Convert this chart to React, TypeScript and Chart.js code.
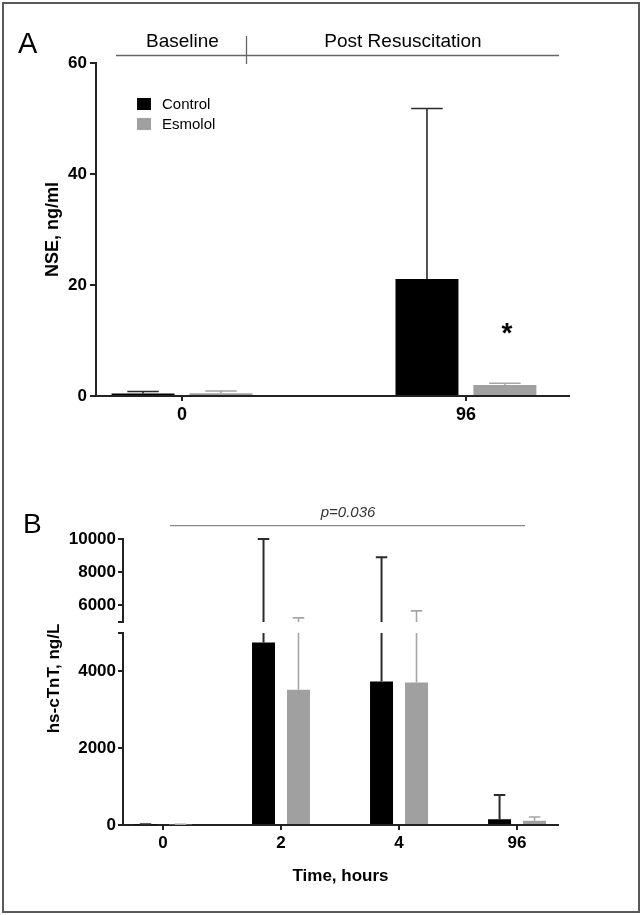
import React, { useEffect, useRef } from 'react';
import { Chart, registerables } from 'chart.js';

Chart.register(...registerables);

const FAMILY = '"Liberation Sans", Arial, Helvetica, sans-serif';

// ---------- shared series ----------
const seriesNames = ['Control', 'Esmolol'];
const barColors = ['#000000', '#a0a0a0'];
const errColors = ['#2b2b2b', '#a6a6a6'];

// ---------- Panel A: NSE (ng/ml) ----------
const nseTimes = ['0', '96'];
const nseControl = [0.45, 21.1];
const nseControlUpper = [0.8, 51.8];
const nseEsmolol = [0.5, 2.0];
const nseEsmololUpper = [0.9, 2.3];
const nseTicks = [0, 20, 40, 60];

// ---------- Panel B: hs-cTnT (ng/L) ----------
const tntTimes = ['0', '2', '4', '96'];
const tntControl = [15, 4750, 3740, 150];
const tntControlUpper = [20, 10000, 8900, 780];
const tntEsmolol = [15, 3520, 3710, 110];
const tntEsmololUpper = [20, 5250, 5670, 210];
const tntLowTicks = [0, 2000, 4000, 5000];
const tntHighTicks = [5000, 6000, 8000, 10000];
const tntBreak = 5000;

type Txt = { text: string; x: number; y: number; font: string; align?: CanvasTextAlign; rotate?: number; color?: string };
type Ln = { x1: number; y1: number; x2: number; y2: number; color: string; width: number };

function errorBars(uppers: number[][], colors: string[], widths: number[]) {
  return {
    id: 'errorBars',
    afterDatasetsDraw(chart: any) {
      const { ctx, chartArea: area } = chart;
      const ys = chart.scales.y;
      chart.data.datasets.forEach((ds: any, di: number) => {
        const meta = chart.getDatasetMeta(di);
        meta.data.forEach((bar: any, i: number) => {
          const { x, width } = bar.getProps(['x', 'width'], true);
          let yBottom = ys.getPixelForValue(ds.data[i].y);
          let yTop = ys.getPixelForValue(uppers[di][i]);
          const capVisible = yTop >= area.top - 0.5 && yTop <= area.bottom;
          yBottom = Math.min(yBottom, area.bottom);
          yTop = Math.max(yTop, area.top);
          if (yBottom - yTop <= 0) return;
          ctx.save();
          ctx.strokeStyle = colors[di];
          ctx.lineWidth = widths[di];
          ctx.beginPath();
          ctx.moveTo(x, yBottom);
          ctx.lineTo(x, yTop);
          if (capVisible) {
            ctx.moveTo(x - width / 4, yTop);
            ctx.lineTo(x + width / 4, yTop);
          }
          ctx.stroke();
          ctx.restore();
        });
      });
    },
  };
}

function decor(texts: Txt[], lines: Ln[]) {
  return {
    id: 'decor',
    afterDraw(chart: any) {
      const ctx = chart.ctx;
      lines.forEach((l) => {
        ctx.save();
        ctx.strokeStyle = l.color;
        ctx.lineWidth = l.width;
        ctx.beginPath();
        ctx.moveTo(l.x1, l.y1);
        ctx.lineTo(l.x2, l.y2);
        ctx.stroke();
        ctx.restore();
      });
      texts.forEach((t) => {
        ctx.save();
        ctx.font = t.font;
        ctx.fillStyle = t.color || '#000';
        ctx.textAlign = t.align || 'left';
        ctx.textBaseline = 'alphabetic';
        ctx.translate(t.x, t.y);
        if (t.rotate) ctx.rotate(t.rotate);
        ctx.fillText(t.text, 0, 0);
        ctx.restore();
      });
    },
  };
}

function boxLegend(x: number, y: number, gap: number) {
  return {
    id: 'boxLegend',
    afterDraw(chart: any) {
      const ctx = chart.ctx;
      chart.data.datasets.forEach((ds: any, i: number) => {
        const top = y + i * gap;
        ctx.save();
        ctx.fillStyle = ds.backgroundColor;
        ctx.fillRect(x, top, 14, 12);
        ctx.fillStyle = '#000';
        ctx.font = `15px ${FAMILY}`;
        ctx.textAlign = 'left';
        ctx.textBaseline = 'middle';
        ctx.fillText(ds.label, x + 25, top + 6.5);
        ctx.restore();
      });
    },
  };
}

function xScale(cats: string[], min: number, max: number, display: boolean, height: number, fontSize: number, title?: any) {
  return {
    type: 'linear',
    min,
    max,
    offset: false,
    display,
    afterBuildTicks: (s: any) => {
      s.ticks = cats.map((_, i) => ({ value: i }));
    },
    afterFit: (s: any) => {
      s.height = height;
    },
    ticks: {
      callback: (v: number) => cats[v] ?? '',
      font: { family: FAMILY, size: fontSize, weight: 'bold' },
      color: '#000',
      padding: 3,
      maxRotation: 0,
      autoSkip: false,
    },
    grid: { display: true, offset: false, drawOnChartArea: false, drawTicks: true, tickLength: 5, color: '#222', lineWidth: 2 },
    border: { display: true, color: '#222', width: 2 },
    title: title || { display: false },
  };
}

function yScale(ticks: number[], min: number, max: number, width: number, hidden: number[], tickLen: number, pad: number, title?: any) {
  return {
    type: 'linear',
    min,
    max,
    afterBuildTicks: (s: any) => {
      s.ticks = ticks.map((v) => ({ value: v }));
    },
    afterFit: (s: any) => {
      s.width = width;
    },
    ticks: {
      callback: (v: number) => (hidden.includes(v) ? '' : String(v)),
      font: { family: FAMILY, size: 17, weight: 'bold' },
      color: '#000',
      padding: pad,
    },
    grid: { display: true, drawOnChartArea: false, drawTicks: true, tickLength: tickLen, color: '#222', lineWidth: 2 },
    border: { display: true, color: '#222', width: 2 },
    title: title || { display: false },
  };
}

function datasets(cats: string[], series: number[][], catPct: number, barPct: number) {
  return seriesNames.map((name, si) => ({
    label: name,
    data: cats.map((_, i) => ({ x: i, y: series[si][i] })),
    backgroundColor: barColors[si],
    borderWidth: 0,
    categoryPercentage: catPct,
    barPercentage: barPct,
    clip: 0,
  }));
}

const baseOptions = {
  animation: false,
  responsive: false,
  maintainAspectRatio: false,
  events: [],
};

export default function App() {
  const aRef = useRef<HTMLCanvasElement>(null);
  const bHighRef = useRef<HTMLCanvasElement>(null);
  const bLowRef = useRef<HTMLCanvasElement>(null);

  useEffect(() => {
    Chart.defaults.font.family = FAMILY;
    Chart.defaults.color = '#000';
    const charts: Chart[] = [];

    // Panel A
    charts.push(
      new Chart(aRef.current as HTMLCanvasElement, {
        type: 'bar',
        data: { datasets: datasets(nseTimes, [nseControl, nseEsmolol], 0.549, 0.808) as any },
        options: {
          ...baseOptions,
          layout: { padding: { left: 0, right: 75, top: 63, bottom: 14 } },
          plugins: { legend: { display: false }, tooltip: { enabled: false } },
          scales: {
            x: xScale(nseTimes, -0.303, 1.363, true, 50, 18) as any,
            y: yScale(nseTicks, 0, 60, 96, [], 6, 3, {
              display: true,
              text: 'NSE, ng/ml',
              font: { family: FAMILY, size: 18, weight: 'bold' },
              color: '#000',
              padding: { top: 42, bottom: 0 },
            }) as any,
          },
        } as any,
        plugins: [
          errorBars([nseControlUpper, nseEsmololUpper], errColors, [1.6, 1.6]),
          boxLegend(137, 98, 20),
          decor(
            [
              { text: 'A', x: 18, y: 53, font: `29px ${FAMILY}` },
              { text: 'Baseline', x: 182.5, y: 47, font: `19px ${FAMILY}`, align: 'center' },
              { text: 'Post Resuscitation', x: 403, y: 47, font: `19px ${FAMILY}`, align: 'center' },
              { text: '*', x: 507, y: 342, font: `bold 28px ${FAMILY}`, align: 'center' },
            ],
            [
              { x1: 116, y1: 55.5, x2: 559, y2: 55.5, color: '#666', width: 1.3 },
              { x1: 246.5, y1: 36, x2: 246.5, y2: 64, color: '#666', width: 1.3 },
            ]
          ),
        ],
      })
    );

    // Panel B — upper (broken) segment
    charts.push(
      new Chart(bHighRef.current as HTMLCanvasElement, {
        type: 'bar',
        data: { datasets: datasets(tntTimes, [tntControl, tntEsmolol], 0.593, 0.657) as any },
        options: {
          ...baseOptions,
          layout: { padding: { left: 0, right: 86, top: 79, bottom: 293 } },
          plugins: { legend: { display: false }, tooltip: { enabled: false } },
          scales: {
            x: xScale(tntTimes, -0.339, 3.347, false, 0, 17) as any,
            y: yScale(tntHighTicks, tntBreak, 10000, 123, [tntBreak], 5, 2) as any,
          },
        } as any,
        plugins: [
          errorBars([tntControlUpper, tntEsmololUpper], errColors, [2, 1.6]),
          decor(
            [
              { text: 'B', x: 23, y: 73, font: `28px ${FAMILY}` },
              { text: 'p=0.036', x: 348, y: 57, font: `italic 15px ${FAMILY}`, align: 'center', color: '#333' },
            ],
            [{ x1: 170, y1: 65.7, x2: 525, y2: 65.7, color: '#888', width: 1.3 }]
          ),
        ],
      })
    );

    // Panel B — lower segment
    charts.push(
      new Chart(bLowRef.current as HTMLCanvasElement, {
        type: 'bar',
        data: { datasets: datasets(tntTimes, [tntControl, tntEsmolol], 0.593, 0.657) as any },
        options: {
          ...baseOptions,
          layout: { padding: { left: 0, right: 86, top: 173, bottom: 0 } },
          plugins: { legend: { display: false }, tooltip: { enabled: false } },
          scales: {
            x: xScale(tntTimes, -0.339, 3.347, true, 90, 17, {
              display: true,
              text: 'Time, hours',
              font: { family: FAMILY, size: 17, weight: 'bold' },
              color: '#000',
              padding: { top: 0, bottom: 28 },
            }) as any,
            y: yScale(tntLowTicks, 0, tntBreak, 123, [tntBreak], 5, 2) as any,
          },
        } as any,
        plugins: [
          errorBars([tntControlUpper, tntEsmololUpper], errColors, [2, 1.6]),
          decor(
            [{ text: 'hs-cTnT, ng/L', x: 59, y: 218.5, font: `bold 17px ${FAMILY}`, align: 'center', rotate: -Math.PI / 2 }],
            []
          ),
        ],
      })
    );

    return () => charts.forEach((c) => c.destroy());
  }, []);

  return (
    <div style={{ position: 'absolute', left: 0, top: 0, width: 644, height: 915, background: '#fff', overflow: 'hidden' }}>
      <div
        style={{
          position: 'absolute',
          left: 2,
          top: 2,
          width: 638,
          height: 911,
          boxSizing: 'border-box',
          border: '2px solid #5a5a5a',
        }}
      />
      <canvas ref={aRef} width={644} height={460} style={{ position: 'absolute', left: 0, top: 0 }} />
      <canvas ref={bHighRef} width={644} height={455} style={{ position: 'absolute', left: 0, top: 460 }} />
      <canvas ref={bLowRef} width={644} height={455} style={{ position: 'absolute', left: 0, top: 460 }} />
    </div>
  );
}
